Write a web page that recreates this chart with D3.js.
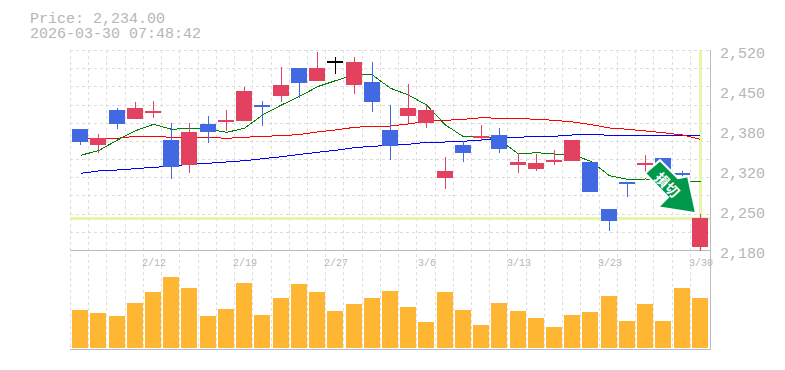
<!DOCTYPE html>
<html>
<head>
<meta charset="utf-8">
<style>
  html, body { margin: 0; padding: 0; background: #fff; }
  svg { display: block; }
  text { font-family: "Liberation Mono", monospace; fill: #b6b6b6; }
</style>
<script src="https://cdn.jsdelivr.net/npm/d3@7"></script>
</head>
<body>
<svg id="chart" width="785" height="370"></svg>
<script>
const dates = ["2/5","2/6","2/9","2/10","2/12","2/13","2/16","2/17","2/18","2/19","2/20","2/24","2/25","2/26","2/27","3/2","3/3","3/4","3/5","3/6","3/9","3/10","3/11","3/12","3/13","3/16","3/17","3/18","3/19","3/23","3/24","3/25","3/26","3/27","3/30"];
const dateLabels = ["2/12","2/19","2/27","3/6","3/13","3/23","3/30"];

const opens = [2385.7,2358.5,2418,2402.7,2412.9,2367,2324.5,2394.2,2399.3,2399.3,2426.5,2441.8,2489.4,2467.3,2501.3,2460.5,2465.6,2384,2407.8,2395.9,2302.4,2358.5,2370.4,2375.5,2324.5,2317.7,2331.3,2331.3,2329.6,2249.7,2295.6,2324.5,2336.4,2310.9,2185.1];
const highs = [2385.7,2377.2,2421.4,2431.6,2433.3,2395.9,2395.9,2407.8,2418,2457.1,2433.3,2491.1,2489.4,2516.6,2508.1,2508.1,2499.6,2426.5,2462.2,2426.5,2338.1,2365.3,2392.5,2387.4,2344.9,2343.2,2350,2367,2329.6,2249.7,2295.6,2341.5,2336.4,2314.3,2241.2];
const lows = [2358.5,2344.9,2385.7,2402.7,2404.4,2300.7,2310.9,2361.9,2382.3,2399.3,2390.8,2431.6,2438.4,2467.3,2479.2,2445.2,2414.6,2333,2395.9,2387.4,2283.7,2329.6,2365.3,2344.9,2310.9,2314.3,2324.5,2331.3,2278.6,2212.3,2270.1,2310.9,2312.6,2302.4,2178.3];
const closes = [2363.6,2370.4,2394.2,2421.4,2416.3,2321.1,2380.6,2380.6,2401,2450.3,2424.8,2460.5,2463.9,2489.4,2501.3,2499.6,2431.6,2356.8,2421.4,2418,2314.3,2344.9,2373.8,2351.7,2329.6,2327.9,2333,2367,2278.6,2229.3,2292.2,2327.9,2312.6,2309.2,2234];

const maShort = [2341,2348.8,2367,2382.8,2393.7,2385.2,2386.9,2385.7,2380,2386.9,2409.5,2426.5,2441,2457.6,2467.8,2478.4,2477.5,2454.9,2443.5,2426.5,2392.5,2372.6,2373.8,2367,2343.2,2345.4,2343.2,2342.7,2330.1,2306.3,2300.2,2300.7,2299,2297.3,2295.6];
const maMid = [2369.6,2369.9,2369.9,2373.3,2373.3,2371.6,2371.6,2371.6,2369.9,2371.6,2373.3,2374.3,2376.4,2380.6,2384,2388.6,2390.3,2390.8,2394.2,2398.8,2400.5,2402.2,2404.9,2403.9,2403.6,2402.2,2400.5,2397.6,2393,2387.4,2385.2,2382.3,2379.4,2375.5,2368.2];
const maLong = [2310.4,2314.3,2316,2318.2,2320.6,2322.3,2326.2,2327.4,2329.6,2331.8,2335.2,2338.6,2342.4,2346.1,2349.5,2353.9,2356.3,2358,2359.7,2363.1,2363.6,2364.8,2367,2369.9,2371.6,2373.3,2373.3,2375.5,2376.7,2375,2375,2375,2375,2375.5,2375];

const volumes = [38,35,32,45,56,71,60,32,39,65,33,50,64,56,37,44,50,57,41,26,56,38,23,45,37,30,21,33,36,52,27,44,27,60,50];

const priceTicks = [2520,2452,2384,2316,2248,2180];
const lastPrice = 2234;
const lastLabel = "Price: 2,234.00";
const stampLabel = "2026-03-30 07:48:42";
const markDate = "3/30";

const left = 71, right = 709;
const priceTop = 50, priceBottom = 250, volBottom = 348, paneBottom = 350;

const svg = d3.select("#chart");

const x = d3.scaleBand().domain(dates).range([left, right]).paddingInner(0.12).paddingOuter(0.06);
const y = d3.scaleLinear().domain([2180, 2520]).range([priceBottom, priceTop]);
const yVol = d3.scaleLinear().domain([0, 98]).range([volBottom, priceBottom]);
const cx = d => Math.round(x(d) + x.bandwidth() / 2);

// dashed grid first, everything else sits on top
const grid = svg.append("g").attr("stroke", "#ddd").attr("stroke-dasharray", "3,3").attr("shape-rendering", "crispEdges");
const gridStep = (2520 - 2180) / 11;
grid.selectAll(".h").data(d3.range(0, 11)).enter().append("line")
  .attr("x1", left - 1).attr("x2", right + 1)
  .attr("y1", i => Math.round(y(2520 - i * gridStep)) + 0.5)
  .attr("y2", i => Math.round(y(2520 - i * gridStep)) + 0.5);
grid.selectAll(".v").data(d3.range(0, 35)).enter().append("line")
  .attr("y1", priceTop).attr("y2", paneBottom)
  .attr("x1", i => Math.round(x.step() * i + left) - 0.5)
  .attr("x2", i => Math.round(x.step() * i + left) - 0.5);

// pane frame
const frame = svg.append("g").attr("stroke", "#bbb").attr("shape-rendering", "crispEdges");
frame.append("line").attr("x1", 70).attr("x2", 710).attr("y1", priceBottom + 0.5).attr("y2", priceBottom + 0.5);
frame.append("line").attr("x1", 70).attr("x2", 711).attr("y1", paneBottom - 0.5).attr("y2", paneBottom - 0.5);
frame.append("line").attr("x1", 710.5).attr("x2", 710.5).attr("y1", 50).attr("y2", paneBottom);

// last price cross
const cross = svg.append("g").attr("stroke", "#e6f5ab").attr("shape-rendering", "crispEdges");
cross.append("line").attr("x1", 70).attr("x2", 710).attr("y1", y(lastPrice) + 0.5).attr("y2", y(lastPrice) + 0.5).attr("stroke-width", 3);
cross.append("line").attr("x1", cx(markDate) + 0.5).attr("x2", cx(markDate) + 0.5).attr("y1", 50).attr("y2", priceBottom).attr("stroke-width", 3);

// volume
svg.append("g").selectAll("rect").data(volumes).enter().append("rect")
  .attr("x", (d, i) => Math.round(x(dates[i])))
  .attr("width", 16)
  .attr("y", d => yVol(d))
  .attr("height", d => volBottom - yVol(d))
  .attr("fill", "#ffb733");

// moving averages
const maLine = d3.line().x((d, i) => cx(dates[i]) + 0.5).y(d => y(d));
[[maLong, "#0000ff"], [maMid, "#ff0000"], [maShort, "#007f00"]].forEach(([values, color]) => {
  svg.append("path").datum(values)
    .attr("d", maLine)
    .attr("fill", "none")
    .attr("stroke", color)
    .attr("shape-rendering", "crispEdges");
});

// candles
const candleColor = i => closes[i] > opens[i] ? "#e2425f" : closes[i] < opens[i] ? "#4169e1" : "#000";
const candles = svg.append("g").selectAll("g").data(dates).enter().append("g");
candles.append("line")
  .attr("x1", d => cx(d) + 0.5).attr("x2", d => cx(d) + 0.5)
  .attr("y1", (d, i) => Math.round(y(highs[i])))
  .attr("y2", (d, i) => Math.round(y(lows[i])))
  .attr("stroke", (d, i) => candleColor(i))
  .attr("shape-rendering", "crispEdges");
candles.append("rect")
  .attr("x", d => Math.round(x(d)))
  .attr("width", 16)
  .attr("y", (d, i) => Math.round(y(Math.max(opens[i], closes[i]))))
  .attr("height", (d, i) => Math.max(Math.round(y(Math.min(opens[i], closes[i]))) - Math.round(y(Math.max(opens[i], closes[i]))), 2))
  .attr("fill", (d, i) => candleColor(i));

// axis labels
const yAxis = d3.axisRight(y).tickValues(priceTicks).tickSize(0).tickPadding(0)
  .tickFormat(v => d3.format(",")(Math.round(v / 10) * 10));
const yG = svg.append("g").attr("transform", "translate(720,0)").call(yAxis);
yG.select(".domain").remove();
yG.selectAll("text").attr("dy", 7.5).style("font-size", "15px").attr("font-family", null).attr("fill", null);

svg.append("g").selectAll("text").data(dateLabels).enter().append("text")
  .attr("x", d => cx(d) + 1)
  .attr("y", 266)
  .attr("text-anchor", "middle")
  .style("font-size", "10px")
  .text(d => d);

// header
svg.append("text").attr("x", 30).attr("y", 23).style("font-size", "15px").text(lastLabel);
svg.append("text").attr("x", 30).attr("y", 38).style("font-size", "15px").text(stampLabel);

// sell arrow mark, tip just above the last price line
const arrow = svg.append("g").attr("transform", `translate(${cx(markDate) - 4},${y(lastPrice) - 5})`);
arrow.append("path")
  .attr("d", "M-51,-40L-36,-53L-18,-35L-8,-37L0,0L-38,-6L-28,-16Z")
  .attr("fill", "#00984a")
  .attr("stroke", "#fff")
  .attr("stroke-width", 2)
  .attr("stroke-linejoin", "miter");
arrow.append("text")
  .attr("transform", "translate(-29,-28) rotate(45)")
  .attr("text-anchor", "middle")
  .attr("y", 5)
  .style("font-size", "14px")
  .style("font-family", '"Noto Sans CJK JP"')
  .style("font-weight", "bold")
  .style("fill", "#fff")
  .text("損切");
</script>
</body>
</html>
